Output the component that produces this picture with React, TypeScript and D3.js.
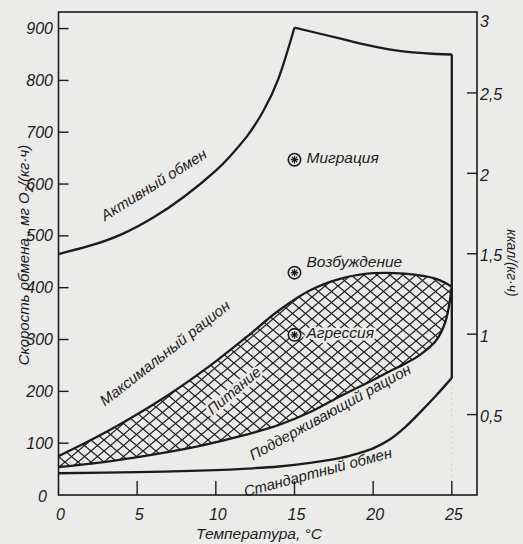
import React from 'react';
import * as d3 from 'd3';

const W = 523;
const H = 544;

// axis ticks
const xTicks = [0, 5, 10, 15, 20, 25];
const yTicks = [0, 100, 200, 300, 400, 500, 600, 700, 800, 900];
const kcalTicks = [0.5, 1, 1.5, 2, 2.5, 3];
const kcalLabels = ['0,5', '1', '1,5', '2', '2,5', '3'];

// Активный обмен (rising part, then falling part)
const activeRiseT = [0, 2, 4, 6, 8, 10, 11, 12, 13, 14, 15];
const activeRiseV = [465, 481, 503, 535, 576, 626, 657, 693, 740, 805, 902];
const activeFallT = [15, 16.5, 18, 19.5, 21, 22.5, 24, 25];
const activeFallV = [902, 891, 880, 869, 860, 854, 851, 850];

// Максимальный рацион
const maxT = [0, 2, 4, 6, 8, 10, 12, 14, 16, 18, 20, 22, 24, 25];
const maxV = [75, 105, 138, 174, 214, 258, 306, 356, 395, 418, 428, 427, 417, 402];

// Поддерживающий рацион
const mainT = [0, 3, 6, 9, 12, 14, 16, 18, 20, 21, 22, 23, 24, 24.6, 25];
const mainV = [54, 64, 78, 95, 117, 135, 160, 192, 222, 238, 253, 271, 298, 335, 402];

// Стандартный обмен
const stdT = [0, 5, 10, 12, 14, 16, 18, 19, 20, 21, 22, 23, 24, 25];
const stdV = [42, 44, 48, 51, 55, 62, 72, 80, 90, 106, 130, 160, 192, 226];

// behaviour markers
const markerNames = ['Миграция', 'Возбуждение', 'Агрессия'];
const markerT = [15, 15, 15];
const markerV = [647, 429, 309];

// curve labels
const curveLabels = ['Активный обмен', 'Максимальный рацион', 'Питание', 'Поддерживающий рацион', 'Стандартный обмен'];
const curveLabelT = [6.1, 6.8, 11.2, 17.3, 16.5];
const curveLabelV = [597, 272, 200, 158, 42];
const curveLabelAngle = [-32, -38, -40, -29, -15];

const FONT = "'Liberation Sans', Arial, sans-serif";
const INK = '#1b1b1b';
const BG = '#ebebe9';

const zip = (a: number[], b: number[]) => a.map((v, i) => [v, b[i]] as [number, number]);

export default function App() {
  const x = d3.scaleLinear().domain([0, 26.6]).range([58.5, 477]);
  const y = d3.scaleLinear().domain([0, 932]).range([495, 12]);
  const yk = d3.scaleLinear().domain([0, 3]).range([495, 12.5]);

  const curve = d3.curveCatmullRom.alpha(0.5);
  const line = d3
    .line<[number, number]>()
    .x((d) => x(d[0]))
    .y((d) => y(d[1]))
    .curve(curve);
  const smooth = d3
    .line<[number, number]>()
    .x((d) => x(d[0]))
    .y((d) => y(d[1]))
    .curve(d3.curveNatural);
  const area = d3
    .area<[number, number]>()
    .x((d) => x(d[0]))
    .y0(y(0))
    .y1((d) => y(d[1]))
    .curve(curve);

  const maxPts = zip(maxT, maxV);
  const mainPts = zip(mainT, mainV);
  const stdPts = zip(stdT, stdV);
  const riseP = zip(activeRiseT, activeRiseV);
  const fallP = zip(activeFallT, activeFallV);

  const x0 = x(0);
  const x1 = x(26.6);
  const yTop = y(932);
  const yBot = y(0);

  return (
    <svg
      width={W}
      height={H}
      viewBox={`0 0 ${W} ${H}`}
      style={{ position: 'absolute', left: 0, top: 0 }}
      fontFamily={FONT}
    >
      <defs>
        <pattern id="hatch" patternUnits="userSpaceOnUse" width={13} height={11}>
          <line x1={0} y1={0} x2={13} y2={11} stroke={INK} strokeWidth={1.25} />
          <line x1={0} y1={11} x2={13} y2={0} stroke={INK} strokeWidth={1.25} />
        </pattern>
        <mask id="band">
          <rect x={0} y={0} width={W} height={H} fill="black" />
          <path d={area(maxPts) || ''} fill="white" />
          <path d={area(mainPts) || ''} fill="black" />
        </mask>
      </defs>
      <rect x={0} y={0} width={W} height={H} fill={BG} />

      {/* hatched band */}
      <rect x={x0} y={yTop} width={x1 - x0} height={yBot - yTop} fill="url(#hatch)" mask="url(#band)" />

      {/* frame */}
      <rect x={x0} y={yTop} width={x1 - x0} height={yBot - yTop} fill="none" stroke={INK} strokeWidth={1.6} />

      {/* left ticks */}
      {yTicks.filter((t) => t > 0).map((t) => (
        <line key={'yt' + t} x1={x0} x2={x0 + 10} y1={y(t)} y2={y(t)} stroke={INK} strokeWidth={1.4} />
      ))}
      {yTicks.map((t) => (
        <text
          key={'yl' + t}
          x={t === 0 ? 47 : 53}
          y={y(t) + (t === 0 ? 7 : 5.5)}
          textAnchor="end"
          fontSize={16}
          fontStyle="italic"
          fill={INK}
        >
          {t}
        </text>
      ))}

      {/* bottom ticks */}
      {xTicks.filter((t) => t > 0).map((t) => (
        <line key={'xt' + t} x1={x(t)} x2={x(t)} y1={yBot} y2={yBot - 14} stroke={INK} strokeWidth={1.4} />
      ))}
      {xTicks.map((t) => (
        <text key={'xl' + t} x={x(t) + 2} y={520} textAnchor="middle" fontSize={16} fontStyle="italic" fill={INK}>
          {t}
        </text>
      ))}

      {/* right ticks */}
      {kcalTicks.filter((t) => t < 3).map((t) => (
        <line key={'kt' + t} x1={x1 - 10} x2={x1} y1={yk(t)} y2={yk(t)} stroke={INK} strokeWidth={1.4} />
      ))}
      {kcalTicks.map((t, i) => (
        <text
          key={'kl' + t}
          x={x1 + 3}
          y={t === 3 ? yk(t) + 14.5 : yk(t) + 7.5}
          fontSize={16}
          fontStyle="italic"
          fill={INK}
        >
          {kcalLabels[i]}
        </text>
      ))}

      {/* curves */}
      <path d={smooth(riseP) || ''} fill="none" stroke={INK} strokeWidth={2.3} />
      <path d={smooth(fallP) || ''} fill="none" stroke={INK} strokeWidth={2.3} />
      <line
        x1={x(activeFallT[activeFallT.length - 1])}
        x2={x(activeFallT[activeFallT.length - 1])}
        y1={y(activeFallV[activeFallV.length - 1])}
        y2={y(stdV[stdV.length - 1])}
        stroke={INK}
        strokeWidth={2.3}
      />
      <path d={line(maxPts) || ''} fill="none" stroke={INK} strokeWidth={2.3} />
      <path d={line(mainPts) || ''} fill="none" stroke={INK} strokeWidth={2.3} />
      <path d={line(stdPts) || ''} fill="none" stroke={INK} strokeWidth={2.3} />

      {/* curve labels */}
      {curveLabels.map((s, i) => (
        <text
          key={'cl' + i}
          transform={`translate(${x(curveLabelT[i])},${y(curveLabelV[i])}) rotate(${curveLabelAngle[i]})`}
          textAnchor="middle"
          dominantBaseline="middle"
          fontSize={15}
          fontStyle="italic"
          fill={INK}
          stroke={i === 2 ? BG : 'none'}
          strokeWidth={i === 2 ? 5 : 0}
          strokeLinejoin="round"
          paintOrder="stroke"
        >
          {s}
        </text>
      ))}

      {/* markers */}
      {markerNames.map((s, i) => {
        const cx = x(markerT[i]);
        const cy = y(markerV[i]);
        const r = 3.8;
        return (
          <g key={'m' + i}>
            <circle cx={cx} cy={cy} r={6.2} fill={BG} stroke={INK} strokeWidth={1.6} />
            {[0, 45, 90, 135].map((a) => {
              const rad = (a * Math.PI) / 180;
              return (
                <line
                  key={a}
                  x1={cx - r * Math.cos(rad)}
                  y1={cy - r * Math.sin(rad)}
                  x2={cx + r * Math.cos(rad)}
                  y2={cy + r * Math.sin(rad)}
                  stroke={INK}
                  strokeWidth={1.3}
                />
              );
            })}
            <circle cx={cx} cy={cy} r={1.4} fill={INK} />
            <text
              x={cx + 12}
              y={cy + (i === 1 ? -10 : -1)}
              dominantBaseline="middle"
              fontSize={15.5}
              fontStyle="italic"
              fill={INK}
              stroke={BG}
              strokeWidth={5}
              strokeLinejoin="round"
              paintOrder="stroke"
            >
              {s}
            </text>
          </g>
        );
      })}

      {/* axis titles */}
      <text x={259} y={539} textAnchor="middle" fontSize={15.5} fontStyle="italic" fill={INK}>
        Температура, °C
      </text>
      <text transform="translate(29,255) rotate(-90)" textAnchor="middle" fontSize={15} fontStyle="italic" fill={INK}>
        Скорость обмена , мг O
        <tspan fontSize={11} dy={4}>2</tspan>
        <tspan dy={-4}>/(кг·ч)</tspan>
      </text>
      <text transform="translate(507,263) rotate(90)" textAnchor="middle" fontSize={14} fontStyle="italic" fill={INK}>
        ккал/(кг·ч)
      </text>
    </svg>
  );
}
